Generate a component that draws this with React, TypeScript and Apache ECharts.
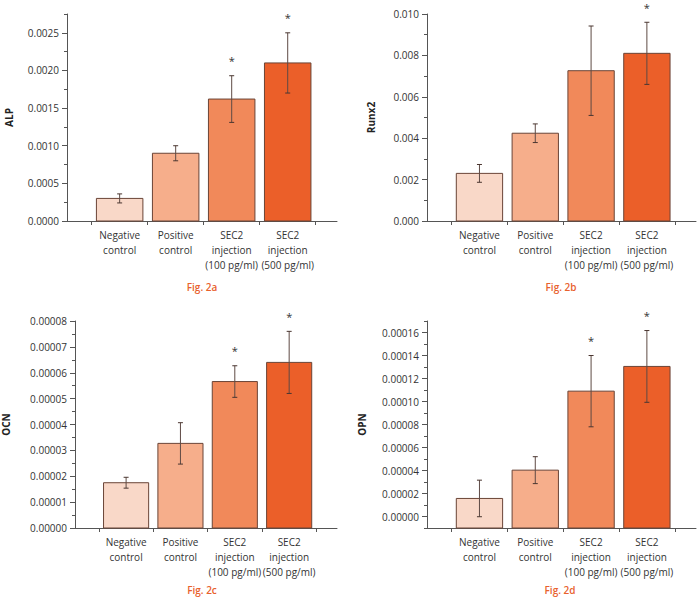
import React, { useEffect, useRef } from "react";
import * as echarts from "echarts";

// ---- data ----
const categories = [
  "Negative\ncontrol",
  "Positive\ncontrol",
  "SEC2\ninjection\n(100 pg/ml)",
  "SEC2\ninjection\n(500 pg/ml)",
];
const barColors = ["#F9D8C8", "#F6AE8B", "#F1895A", "#EB5F29"];

const alpMean = [0.0003, 0.0009, 0.00162, 0.0021];
const alpErr = [0.00006, 0.0001, 0.00031, 0.0004];
const alpSig = [0, 0, 1, 1];
const alpTicks = [0, 0.0005, 0.001, 0.0015, 0.002, 0.0025];

const runxMean = [0.0023, 0.00424, 0.00726, 0.0081];
const runxErr = [0.00043, 0.00045, 0.00216, 0.0015];
const runxSig = [0, 0, 0, 1];
const runxTicks = [0, 0.002, 0.004, 0.006, 0.008, 0.01];

const ocnMean = [0.0000175, 0.0000327, 0.0000566, 0.000064];
const ocnErr = [0.0000021, 0.000008, 0.0000061, 0.000012];
const ocnSig = [0, 0, 1, 1];
const ocnTicks = [0, 0.00001, 0.00002, 0.00003, 0.00004, 0.00005, 0.00006, 0.00007, 0.00008];

const opnMean = [0.0000157, 0.0000403, 0.000109, 0.0001305];
const opnErr = [0.0000159, 0.0000117, 0.000031, 0.0000312];
const opnSig = [0, 0, 1, 1];
const opnTicks = [0, 0.00002, 0.00004, 0.00006, 0.00008, 0.0001, 0.00012, 0.00014, 0.00016];

const catPositions = [1, 2, 3, 4];
const boundaryPositions = [0.5, 1.5, 2.5, 3.5, 4.5];

const FONT = '"Open Sans", "Noto Sans", sans-serif';
const TEXT = "#333333";
const AXIS = "#555555";

const panels = [
  { mean: alpMean, err: alpErr, sig: alpSig, ticks: alpTicks, minor: 0.00025, min: 0, max: 0.00275, dec: 4, name: "ALP", nameGap: 53, left: 67, top: 14, width: 270, fig: "Fig. 2a", figX: 202, figY: 287 },
  { mean: runxMean, err: runxErr, sig: runxSig, ticks: runxTicks, minor: 0.001, min: 0, max: 0.01, dec: 3, name: "Runx2", nameGap: 51, left: 427, top: 14, width: 269, fig: "Fig. 2b", figX: 561, figY: 287 },
  { mean: ocnMean, err: ocnErr, sig: ocnSig, ticks: ocnTicks, minor: 0.000005, min: 0, max: 0.00008, dec: 5, name: "OCN", nameGap: 64, left: 67, top: 321, width: 270, fig: "Fig. 2c", figX: 202, figY: 590 },
  { mean: opnMean, err: opnErr, sig: opnSig, ticks: opnTicks, minor: 0.00001, min: -0.00001, max: 0.00017, dec: 5, name: "OPN", nameGap: 60, left: 427, top: 321, width: 269, fig: "Fig. 2d", figX: 560, figY: 590 },
];

function buildOption() {
  const grid: any[] = [];
  const xAxis: any[] = [];
  const yAxis: any[] = [];
  const series: any[] = [];
  const graphic: any[] = [];

  panels.forEach((p, i) => {
    grid.push({ left: p.left, top: p.top, width: p.width, height: 207, containLabel: false });
    xAxis.push({
      type: "value",
      gridIndex: i,
      min: 0.06,
      max: 4.88,
      splitLine: { show: false },
      axisLine: { show: true, onZero: false, lineStyle: { color: AXIS, width: 1 } },
      axisTick: { show: true, customValues: boundaryPositions, length: 4, lineStyle: { color: AXIS } },
      axisLabel: {
        show: true,
        customValues: catPositions,
        formatter: (v: number) => categories[Math.round(v) - 1] ?? "",
        color: TEXT,
        fontSize: 10,
        lineHeight: 15,
        fontFamily: FONT,
        margin: 6,
      },
    });
    // primary y axis: line, minor ticks, name
    yAxis.push({
      type: "value",
      gridIndex: i,
      position: "left",
      min: p.min,
      max: p.max,
      interval: p.minor,
      splitLine: { show: false },
      axisLine: { show: true, onZero: false, lineStyle: { color: AXIS, width: 1 } },
      axisTick: { show: true, length: 3, lineStyle: { color: AXIS } },
      axisLabel: { show: false },
      name: p.name,
      nameLocation: "middle",
      nameGap: p.nameGap,
      nameRotate: 90,
      nameTextStyle: { color: "#222", fontSize: 10, fontWeight: "bold", fontFamily: FONT },
    });
    // secondary y axis: major ticks + labels
    yAxis.push({
      type: "value",
      gridIndex: i,
      position: "left",
      offset: 0,
      min: p.min,
      max: p.max,
      splitLine: { show: false },
      axisLine: { show: false },
      axisTick: { show: true, customValues: p.ticks, length: 5, lineStyle: { color: AXIS } },
      axisLabel: {
        show: true,
        customValues: p.ticks,
        formatter: (v: number) => v.toFixed(p.dec),
        color: TEXT,
        fontSize: 10,
        fontFamily: FONT,
        margin: 8,
      },
    });

    const base = p.min;
    series.push({
      type: "custom",
      xAxisIndex: i,
      yAxisIndex: i * 2,
      clip: false,
      data: p.mean.map((m, k) => [catPositions[k], m, p.err[k], p.sig[k]]),
      renderItem: (params: any, api: any) => {
        const x = api.value(0);
        const m = api.value(1);
        const e = api.value(2);
        const s = api.value(3);
        const unit = api.size([1, 0])[0];
        const bw = unit * 0.83;
        const top = api.coord([x, m]);
        const bot = api.coord([x, base]);
        const eTop = api.coord([x, m + e]);
        const eBot = api.coord([x, m - e]);
        const cx = top[0];
        const cap = 2.5;
        const children: any[] = [
          {
            type: "rect",
            shape: { x: cx - bw / 2, y: top[1], width: bw, height: bot[1] - top[1] },
            style: { fill: barColors[params.dataIndex], stroke: "#6a4436", lineWidth: 1 },
          },
          {
            type: "line",
            shape: { x1: cx, y1: eTop[1], x2: cx, y2: eBot[1] },
            style: { stroke: "#5e4a44", lineWidth: 1 },
          },
          {
            type: "line",
            shape: { x1: cx - cap, y1: eTop[1], x2: cx + cap, y2: eTop[1] },
            style: { stroke: "#4a3630", lineWidth: 1 },
          },
          {
            type: "line",
            shape: { x1: cx - cap, y1: eBot[1], x2: cx + cap, y2: eBot[1] },
            style: { stroke: "#4a3630", lineWidth: 1 },
          },
        ];
        if (s) {
          children.push({
            type: "text",
            x: cx,
            y: eTop[1] - 15,
            style: {
              text: "*",
              fill: "#333",
              fontSize: 11,
              fontFamily: FONT,
              align: "center",
              verticalAlign: "middle",
            },
          });
        }
        return { type: "group", children };
      },
    });

    graphic.push({
      type: "text",
      x: p.figX,
      y: p.figY,
      style: {
        text: p.fig,
        fill: "#E8612D",
        fontSize: 10,
        fontWeight: 600,
        fontFamily: FONT,
        align: "center",
        verticalAlign: "middle",
      },
    });
  });

  return {
    animation: false,
    backgroundColor: "#ffffff",
    grid,
    xAxis,
    yAxis,
    series,
    graphic,
  };
}

export default function App() {
  const ref = useRef<HTMLDivElement>(null);
  useEffect(() => {
    if (!ref.current) return;
    const chart = echarts.init(ref.current, null, { renderer: "svg", width: 697, height: 598 });
    chart.setOption(buildOption() as any);
    return () => chart.dispose();
  }, []);
  return (
    <div
      ref={ref}
      style={{ position: "absolute", left: 0, top: 0, width: 697, height: 598, background: "#fff" }}
    />
  );
}
